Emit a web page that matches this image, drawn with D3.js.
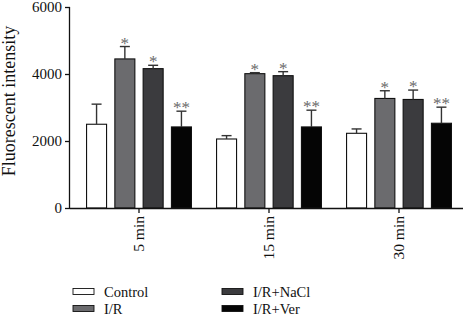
<!DOCTYPE html>
<html>
<head>
<meta charset="utf-8">
<script src="https://cdn.jsdelivr.net/npm/d3@7"></script>
<style>
  body { margin: 0; background: #fff; }
  svg text { font-family: "Liberation Serif", "DejaVu Serif", serif; }
</style>
</head>
<body>
<div id="chart"></div>
<script>
// time points on the x axis
var times = ["5 min", "15 min", "30 min"];
// groups (bars in each time point)
var groups = ["Control", "I/R", "I/R+NaCl", "I/R+Ver"];
var colors = ["#ffffff", "#6b6b6e", "#3b3b3e", "#050505"];

// mean values
var control = [2500, 2060, 2230];
var ir      = [4450, 4010, 3270];
var irNacl  = [4160, 3950, 3240];
var irVer   = [2420, 2420, 2530];

// error (SD) above the mean
var controlErr = [600, 100, 130];
var irErr      = [370, 30, 230];
var irNaclErr  = [100, 120, 280];
var irVerErr   = [470, 500, 480];

// significance marks
var marks = ["", "*", "*", "**"];

var yTicks = [0, 2000, 4000, 6000];

function init() {
    var w = 467, h = 323;
    var margin = { left: 70, top: 7 };

    var svg = d3.select("#chart")
                .append("svg")
                .attr("width", w)
                .attr("height", h);

    var means = [control, ir, irNacl, irVer];
    var errs = [controlErr, irErr, irNaclErr, irVerErr];

    // flatten into one row per bar
    var rows = [];
    times.forEach(function(t, i) {
        groups.forEach(function(g, j) {
            rows.push({ time: t, group: g, gi: j, value: means[j][i], err: errs[j][i] });
        });
    });

    var x = d3.scaleBand()
              .domain(times)
              .range([74, 464]);

    var xIn = d3.scaleBand()
                .domain(groups)
                .range([0, x.bandwidth()])
                .paddingInner(0.293)
                .paddingOuter(0.444);

    var y = d3.scaleLinear()
              .domain([0, 6000])
              .range([208, 7]);

    var cx = function(d) { return x(d.time) + xIn(d.group) + xIn.bandwidth() / 2; };

    // y axis
    var yAxis = svg.append("g")
        .attr("transform", "translate(" + margin.left + ",0)")
        .call(d3.axisLeft(y).tickValues(yTicks).tickSize(5).tickPadding(3).tickFormat(d3.format("d")));
    yAxis.select(".domain").attr("d", "M-0.5," + y(6000) + "V" + y(0)).attr("stroke", "#111").attr("stroke-width", 1.3);
    yAxis.selectAll(".tick line").attr("stroke", "#111").attr("stroke-width", 1.3);
    yAxis.selectAll(".tick text").attr("font-size", 15).attr("fill", "#111")
        .attr("font-family", "Liberation Serif, serif");

    // bars
    svg.selectAll("rect.bar")
        .data(rows)
        .enter()
        .append("rect")
        .attr("class", "bar")
        .attr("x", function(d) { return x(d.time) + xIn(d.group); })
        .attr("y", function(d) { return y(d.value); })
        .attr("width", xIn.bandwidth())
        .attr("height", function(d) { return y(0) - y(d.value); })
        .attr("fill", function(d) { return colors[d.gi]; })
        .attr("stroke", "#111")
        .attr("stroke-width", 1.1);

    // error bars (upper only)
    var capW = 5;
    var eb = svg.selectAll("g.err")
        .data(rows)
        .enter()
        .append("g")
        .attr("class", "err")
        .attr("stroke", "#333")
        .attr("stroke-width", 1.4);
    eb.append("line")
        .attr("x1", cx)
        .attr("x2", cx)
        .attr("y1", function(d) { return y(d.value); })
        .attr("y2", function(d) { return y(d.value + d.err); });
    eb.append("line")
        .attr("x1", function(d) { return cx(d) - capW; })
        .attr("x2", function(d) { return cx(d) + capW; })
        .attr("y1", function(d) { return y(d.value + d.err); })
        .attr("y2", function(d) { return y(d.value + d.err); });

    // significance stars
    svg.selectAll("text.sig")
        .data(rows)
        .enter()
        .append("text")
        .attr("class", "sig")
        .attr("x", cx)
        .attr("y", function(d) { return y(d.value + d.err) + 2; })
        .attr("text-anchor", "middle")
        .attr("font-size", 17)
        .attr("fill", "#6a6a6a")
        .text(function(d) { return marks[d.gi]; });

    // x axis
    var xAxis = svg.append("g")
        .attr("transform", "translate(0," + y(0) + ")")
        .call(d3.axisBottom(x).tickSize(5).tickSizeOuter(0));
    xAxis.select(".domain").attr("d", "M" + margin.left + ",0.5H463").attr("stroke", "#111").attr("stroke-width", 1.3);
    xAxis.selectAll(".tick line").attr("stroke", "#111").attr("stroke-width", 1.3);
    xAxis.selectAll(".tick text")
        .attr("font-size", 15.5)
        .attr("fill", "#111")
        .attr("font-family", "Liberation Serif, serif")
        .attr("text-anchor", "end")
        .attr("transform", "rotate(-90)")
        .attr("x", -8)
        .attr("y", 0)
        .attr("dy", "0.33em");

    // y axis title
    svg.append("text")
        .attr("transform", "translate(15,101) rotate(-90)")
        .attr("text-anchor", "middle")
        .attr("font-size", 18)
        .attr("fill", "#111")
        .text("Fluorescent intensity");

    // legend
    var legendPos = [
        { x: 73, y: 288.5 },
        { x: 73, y: 305.5 },
        { x: 222, y: 288.5 },
        { x: 222, y: 305.5 }
    ];
    var legend = svg.selectAll("g.legend")
        .data(groups)
        .enter()
        .append("g")
        .attr("class", "legend")
        .attr("transform", function(d, i) { return "translate(" + legendPos[i].x + "," + legendPos[i].y + ")"; });
    legend.append("rect")
        .attr("width", 21)
        .attr("height", 6)
        .attr("fill", function(d, i) { return colors[i]; })
        .attr("stroke", "#111")
        .attr("stroke-width", 0.9);
    legend.append("text")
        .attr("x", 31)
        .attr("y", 8.5)
        .attr("font-size", 14.5)
        .attr("fill", "#111")
        .text(function(d) { return d; });
}

window.onload = init;
</script>
</body>
</html>
